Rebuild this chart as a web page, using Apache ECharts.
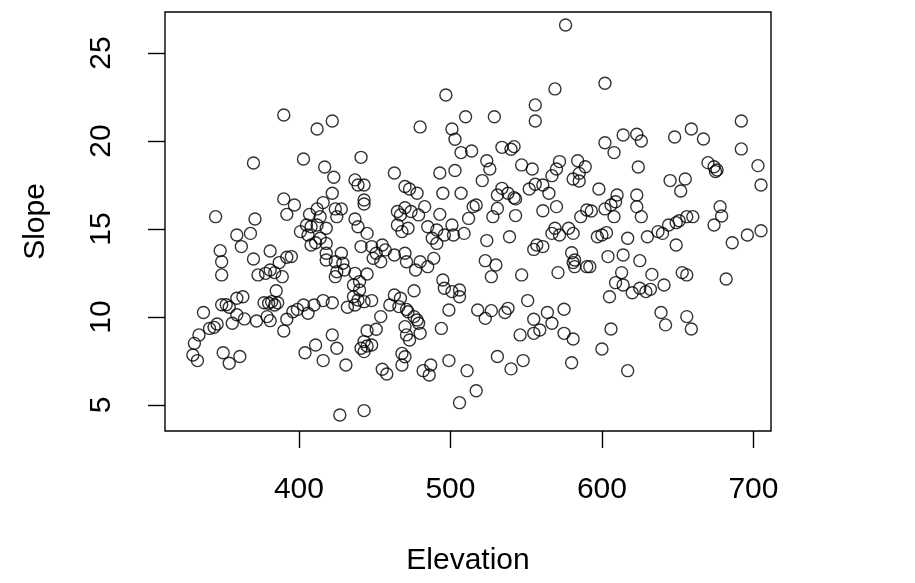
<!DOCTYPE html>
<html>
<head>
<meta charset="utf-8">
<script src="https://cdn.jsdelivr.net/npm/echarts@6/dist/echarts.min.js"></script>
<style>
  html, body { margin: 0; padding: 0; background: #fff; }
  #chart { width: 915px; height: 583px; }
</style>
</head>
<body>
<div id="chart"></div>
<script>
// Elevation / Slope pairs
const elevation = [
  390,412,370,403,417,390,397,416,412,345,371,392,407,414,
  422,497,510,480,501,503,507,514,441,423,437,439,443,463,422,470,473,478,493,503,495,507,443,443,424,428,425,437,465,467,470,474,479,483,493,512,515,517,
  576,569,602,556,556,529,614,602,608,534,540,542,524,526,521,547,554,572,570,567,584,589,585,581,585,534,538,531,542,543,552,556,561,565,598,610,609,606,602,531,561,570,590,593,586,543,528,608,
  692,692,703,705,623,626,648,659,667,624,670,674,676,675,645,655,652,623,623,626,678,679,656,660,
  630,637,640,644,649,651,674,649,686,696,705,625,633,641,620,625,629,632,653,656,682,639,642,656,659,
  359,368,362,348,349,349,370,381,373,378,381,384,389,387,392,395,401,406,405,408,412,418,408,411,414,418,418,418,385,359,363,349,352,354,359,356,364,372,377,380,382,384,386,379,381,392,390,337,341,344,346,334,331,330,333,350,354,361,396,399,403,406,410,416,404,411,416,
  439,445,465,468,472,485,491,496,501,502,509,488,491,
  441,448,451,455,457,454,449,463,470,471,480,477,485,489,428,424,429,425,430,424,437,445,436,440,440,436,439,443,448,437,432,422,463,467,460,466,471,472,476,478,479,470,471,473,480,476,495,496,501,506,506,499,494,454,451,445,422,425,443,441,445,448,443,431,455,458,468,470,468,482,487,486,499,511,517,506,427,443,518,
  569,567,572,578,581,597,600,603,617,524,539,555,557,561,523,530,527,547,571,580,581,582,582,590,592,604,614,613,609,614,605,551,523,527,536,538,555,564,575,567,559,555,546,575,581,606,600,531,540,548,580,617
];
const slope = [
  21.48,20.68,18.75,18.98,18.52,16.71,16.36,16.50,16.14,15.70,15.57,15.83,15.83,15.70,
  21.14,22.61,21.38,20.80,20.68,20.10,19.34,19.43,19.07,17.94,17.79,17.50,17.50,18.18,17.03,17.41,17.27,17.03,18.18,18.32,17.03,17.03,16.65,16.42,16.14,16.14,15.70,15.57,15.99,15.80,16.21,15.99,15.80,16.27,15.83,15.60,16.27,16.36,
  26.59,22.96,23.28,22.05,21.14,21.38,20.34,19.90,19.34,19.64,19.53,19.68,18.88,18.41,17.75,18.64,18.41,18.83,18.41,18.03,18.88,18.54,18.16,17.84,17.73,17.31,17.03,16.93,16.78,16.71,17.27,17.54,17.50,17.03,17.27,16.93,16.55,16.36,16.14,16.17,16.04,16.27,16.08,16.02,15.70,15.76,15.70,15.70,
  21.14,19.55,18.60,17.50,20.38,20.00,20.23,20.68,20.11,18.52,18.77,18.54,18.35,18.26,17.75,17.84,17.16,16.93,16.27,15.70,16.27,15.74,15.70,15.70,
  14.56,14.85,14.75,15.23,15.36,15.47,15.23,14.09,14.22,14.66,14.90,13.20,12.42,11.82,11.38,11.63,11.44,11.57,12.52,12.39,12.16,10.25,9.55,10.02,9.32,
  14.66,14.75,14.00,13.77,13.14,12.39,13.29,13.75,12.39,12.48,12.67,12.52,12.29,13.09,13.39,13.43,14.85,14.66,15.23,15.13,15.23,15.04,14.09,14.22,14.47,14.18,13.62,13.24,11.49,11.06,11.15,10.69,10.69,10.55,10.13,9.64,9.89,9.77,10.81,10.78,10.87,10.68,10.81,10.02,9.79,9.87,9.20,10.25,9.35,9.41,9.60,8.98,8.50,7.84,7.52,7.97,7.37,7.75,10.30,10.43,10.68,10.21,10.68,10.93,7.97,8.41,7.52,
  15.13,14.75,15.23,14.85,15.04,15.13,14.94,14.66,15.23,14.66,14.75,14.47,14.18,
  14.00,14.00,13.62,14.09,13.81,13.14,13.33,13.52,13.62,13.14,13.14,12.67,12.86,13.33,13.62,13.14,13.05,12.57,12.67,12.29,12.48,12.44,11.82,12.01,11.53,11.15,10.96,10.87,10.93,10.68,10.55,10.81,11.25,11.06,10.68,10.59,10.43,10.30,10.02,9.83,9.64,9.45,8.98,8.69,9.07,11.49,12.10,11.63,11.44,11.53,11.15,10.40,9.35,10.02,9.30,9.22,8.98,8.22,8.60,8.22,8.35,8.41,8.03,7.27,7.03,6.76,7.93,7.74,7.27,6.95,7.27,6.70,7.52,6.95,5.81,5.13,4.43,4.68,10.40,
  15.04,14.75,14.66,15.04,14.75,14.56,14.66,14.79,14.47,14.34,14.56,13.84,14.09,14.00,13.20,12.95,12.29,12.39,12.52,13.65,13.09,13.24,12.86,12.86,12.86,13.43,13.52,12.52,11.95,11.82,11.15,10.93,9.92,10.36,10.25,10.49,9.87,10.25,10.44,9.64,9.26,9.07,8.98,9.07,8.75,9.32,8.18,7.75,7.05,7.52,7.40,6.95
];
const xTicks = [400, 500, 600, 700];
const yTicks = [5, 10, 15, 20, 25];

const points = elevation.map((e, i) => [e, slope[i]]);

const font = 'Liberation Sans, Arial, Helvetica, sans-serif';
const chart = echarts.init(document.getElementById('chart'), null, { renderer: 'canvas' });

chart.setOption({
  animation: false,
  backgroundColor: '#fff',
  grid: {
    left: 165, right: 144, top: 12, bottom: 152,
    show: true, borderColor: '#000', borderWidth: 1.4,
    backgroundColor: 'transparent',
    outerBoundsMode: 'none'
  },
  xAxis: {
    type: 'value',
    min: 311.6, max: 711.6,
    name: 'Elevation',
    nameLocation: 'middle',
    nameGap: 115,
    nameTextStyle: { color: '#000', fontSize: 30, fontFamily: font },
    splitLine: { show: false },
    axisLine: { show: false },
    axisTick: { show: true, length: 17, customValues: xTicks, lineStyle: { color: '#000', width: 1.4 } },
    axisLabel: { customValues: xTicks, margin: 44, color: '#000', fontSize: 30, fontFamily: font }
  },
  yAxis: {
    type: 'value',
    min: 3.52, max: 27.33,
    name: 'Slope',
    nameLocation: 'middle',
    nameGap: 114,
    nameTextStyle: { color: '#000', fontSize: 30, fontFamily: font },
    splitLine: { show: false },
    axisLine: { show: false },
    axisTick: { show: true, length: 17, customValues: yTicks, lineStyle: { color: '#000', width: 1.4 } },
    axisLabel: { customValues: yTicks, rotate: 90, margin: 48, color: '#000', fontSize: 30, fontFamily: font }
  },
  series: [{
    type: 'scatter',
    data: points,
    symbol: 'circle',
    symbolSize: 12,
    itemStyle: { color: 'transparent', borderColor: '#000', borderWidth: 1.4 }
  }]
});
</script>
</body>
</html>
